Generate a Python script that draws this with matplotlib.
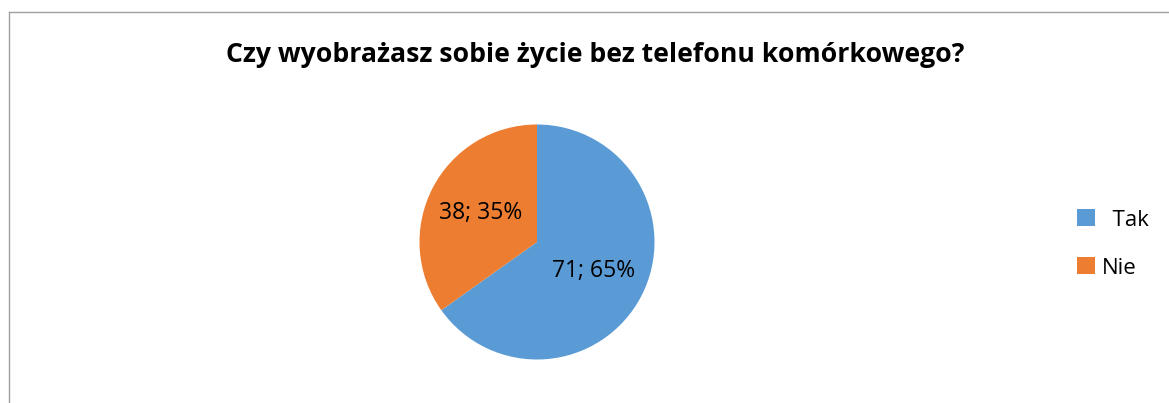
import matplotlib.pyplot as plt
from matplotlib.lines import Line2D

# Dane ankiety
kategorie = ['  Tak', 'Nie']
liczby = [71, 38]
kolory = ['#5B9BD5', '#ED7D31']

W, H = 1169, 403
fig = plt.figure(figsize=(W / 100, H / 100), dpi=100)

# Ramka wykresu (góra i lewa krawędź)
fig.add_artist(Line2D([8.5 / W, 1169 / W], [1 - 11.5 / H, 1 - 11.5 / H],
                      color='#a0a0a0', lw=1.0))
fig.add_artist(Line2D([8.5 / W, 8.5 / W], [0, 1 - 11.5 / H],
                      color='#a0a0a0', lw=1.0))

fig.text(595 / W, 1 - 55 / H, 'Czy wyobrażasz sobie życie bez telefonu komórkowego?',
         ha='center', va='center', fontsize=19.2, fontweight='bold',
         family='Open Sans', color='black')

# Koło
cx, cy, r = 537, 242, 117.5
ax = fig.add_axes([(cx - r) / W, 1 - (cy + r) / H, 2 * r / W, 2 * r / H])
total = sum(liczby)


def etykieta(pct):
    return f'{round(pct * total / 100)}; {pct:.0f}%'


wedges, _, _ = ax.pie(liczby, colors=kolory, startangle=90, counterclock=False,
                      autopct=etykieta, pctdistance=0.54, radius=1,
                      wedgeprops=dict(linewidth=0),
                      textprops=dict(fontsize=16.5, family='Open Sans', color='black'))
ax.set_xlim(-1, 1)
ax.set_ylim(-1, 1)
ax.set_aspect('equal')

# Legenda
leg = fig.legend(wedges, kategorie, loc='center left',
                 bbox_to_anchor=(1077 / W, 1 - 244 / H), frameon=False,
                 prop=dict(family='Open Sans', size=16), handlelength=0.8,
                 handleheight=0.8, handletextpad=0.3, labelspacing=1.2,
                 borderpad=0, borderaxespad=0)

fig.savefig('out.png', dpi=100, facecolor='white')
